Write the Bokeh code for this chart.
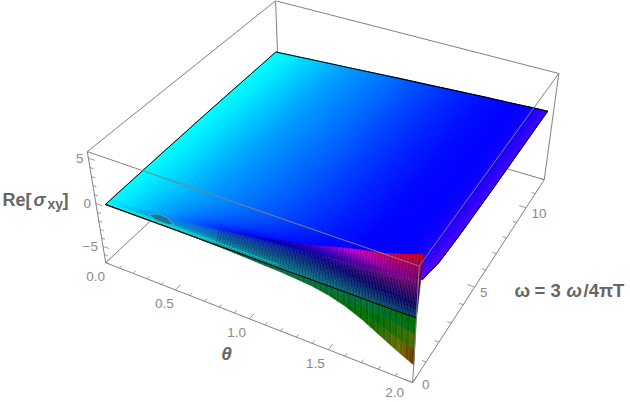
import colorsys
import numpy as np
from bokeh.plotting import figure
from bokeh.models import Range1d
from bokeh.core.properties import value
from bokeh.embed import file_html
from bokeh.resources import INLINE

# axis data
Z_LO, Z_HI, W_MAX = -7.0, 5.7, 12.0
theta_major = [0.0, 0.5, 1.0, 1.5, 2.0]
theta_labels = ["0.0", "0.5", "1.0", "1.5", "2.0"]
theta_label_dx = [-10, -11, -13, -13, -18]
theta_label_dy = [14, 14, 14, 14, 10]
w_major = [0, 5, 10]
w_label_dx = [13, 9, 13]
w_label_dy = [2, 5, 6]
z_major = [-5, 0, 5]
z_labels = ["\u22125", "0", "5"]

# surface data
T = [.07, .2, .4, .6, .8, 1.0, 1.2, 1.4, 1.6, 1.8, 1.9, 2.0]
W_plane = [11.2, 6, 3, 1.5, .7, .3]
Z_plane = [
    [.8, .93, 1.12, 1.32, 1.52, 1.72, 1.9, 2.09, 2.28, 2.44, 2.53, 2.61],
    [.65, .78, .99, 1.2, 1.41, 1.61, 1.82, 2.03, 2.24, 2.44, 2.55, 2.65],
    [.5, .65, .89, 1.13, 1.36, 1.6, 1.83, 2.07, 2.31, 2.54, 2.66, 2.78],
    [.4, .57, .84, 1.12, 1.38, 1.65, 1.92, 2.19, 2.46, 2.73, 2.86, 3.0],
    [.35, .56, .89, 1.22, 1.54, 1.87, 2.19, 2.52, 2.85, 3.17, 3.34, 3.5],
    [.32, .33, .62, .95, 1.38, 1.87, 2.2, 2.55, 2.9, 3.25, 3.45, 3.7],
]
H_plane = [
    [180, 184, 193, 202, 209, 216, 224, 231, 237, 240, 243, 255],
    [180, 185, 194, 203, 210, 217, 225, 232, 238, 240, 243, 256],
    [180, 185, 195, 204, 211, 218, 226, 233, 239, 240, 244, 258],
    [180, 186, 196, 205, 213, 220, 228, 235, 240, 240, 245, 260],
    [180, 187, 198, 209, 219, 227, 234, 239, 240, 240, 247, 262],
    [181, 188, 200, 215, 230, 238, 240, 240, 240, 240, 250, 265],
]
V_plane = [[1]*12]*6
W_wall = [.3, .15, .02]
Z_wall = [
    [.32, .33, .62, .95, 1.38, 1.92, 2.6, 3.4, 4.3, 5.1, 5.65, 6.3],
    [.32, .32, .46, .62, .84, 1.11, 1.45, 1.85, 2.3, 2.7, 2.95, 3.3],
    [.3, .3, .3, .3, .3, .3, .3, .3, .3, .3, .3, .3],
]
H_wall = [
    [185, 190, 205, 215, 228, 238, 250, 265, 300, 338, 350, 358],
    [180, 190, 198, 200, 202, 205, 212, 225, 245, 270, 285, 295],
    [178, 178, 178, 178, 178, 180, 182, 185, 190, 196, 200, 205],
]
V_wall = [
    [1, 1, 1, .95, .95, .9, .85, .9, .95, .95, .95, .92],
    [1, .95, .85, .75, .65, .58, .55, .5, .48, .45, .45, .42],
    [1, 1, .92, .85, .72, .66, .6, .55, .5, .45, .45, .42],
]
T_sheet = [.07, .6, .8, 1.0, 1.1, 1.2, 1.3, 1.4, 1.5, 1.6, 1.7, 1.8, 1.9, 2.0]
W_sheet = [.02, 0]
Z_sheet_min = [.3, .3, .2, .05, -.05, -.12, -.25, -.42, -.75, -1.3, -2.1, -3.1, -4.1, -5.0]
Z_sheet_edge = [.3]*14
H_sheet = [
    [150, 150, 150, 150, 148, 145, 140, 135, 128, 120, 108, 90, 50, 5],
    [170, 170, 170, 170, 170, 168, 166, 163, 160, 157, 154, 152, 150, 150],
]
V_sheet = [[.45]*14, [.45]*14]
blob_theta = [.35, .39, .46, .52, .49, .42]
blob_w = [.2, .38, .35, .13, .04, .04]

# camera fitted to the box corners as seen in the picture
corners = [(0,0,Z_LO,105,262),(0,0,Z_HI,87,151),(2,0,Z_LO,412,382),(2,0,Z_HI,419,266),
           (2,W_MAX,Z_LO,544,179),(2,W_MAX,Z_HI,558,73),(0,W_MAX,Z_HI,275,0),(0,W_MAX,Z_LO,279,101)]
A, b = [], []
for t,w,z,x,y in corners:
    A.append([t,w,z,1,0,0,0,0,-x*t,-x*w,-x*z]); b.append(x)
    A.append([0,0,0,0,t,w,z,1,-y*t,-y*w,-y*z]); b.append(y)
P = np.append(np.linalg.lstsq(np.array(A,float),np.array(b,float),rcond=None)[0],1).reshape(3,4)
def pr(t,w,z):
    t,w,z=np.broadcast_arrays(np.asarray(t,float),np.asarray(w,float),np.asarray(z,float))
    v=P@np.stack([t,w,z,np.ones_like(t)])
    return v[0]/v[2], v[1]/v[2]

p = figure(width=630, height=402, x_range=Range1d(0,630), y_range=Range1d(402,0),
           output_backend="svg", toolbar_location=None, min_border=0, outline_line_color=None,
           background_fill_color="white", border_fill_color="white")
p.styles = {"position":"absolute","left":"0px","top":"0px"}
p.axis.visible = False
p.grid.visible = False

def hexc(h,s,v):
    r,g,bb=colorsys.hsv_to_rgb((h%360)/360,s,v)
    return "#%02x%02x%02x"%(int(r*255),int(g*255),int(bb*255))

def mesh(TT, Ws, Zs, Hs, Vs, per_cell, sub_w, stripe=1.0, lw=1.0, stripe_from=.5):
    """Shade the read grid as small polygons; rows run far to near."""
    xs,ys,cs=[],[],[]
    Ws=np.array(Ws,float);Zs=np.array(Zs,float);Hs=np.array(Hs,float);Vs=np.array(Vs,float)
    for i in range(len(Ws)-1):
        for j in range(sub_w):
            f0,f1=j/sub_w,(j+1)/sub_w
            col=0
            for k in range(len(TT)-1):
                n=max(1,int(round((TT[k+1]-TT[k])/.2*per_cell)))
                for m in range(n):
                    g0,g1=m/n,(m+1)/n
                    ts=[TT[k]+(TT[k+1]-TT[k])*g for g in (g0,g1,g1,g0)]
                    fs=[f0,f0,f1,f1]; gs=[g0,g1,g1,g0]
                    wv=[Ws[i]+(Ws[i+1]-Ws[i])*f for f in fs]
                    def bl(M,f,g):
                        return (M[i,k]*(1-g)+M[i,k+1]*g)*(1-f)+(M[i+1,k]*(1-g)+M[i+1,k+1]*g)*f
                    zv=[bl(Zs,f,g) for f,g in zip(fs,gs)]
                    x,y=pr(ts,wv,zv)
                    xs.append(x.tolist());ys.append(y.tolist())
                    fm,gm=(f0+f1)/2,(g0+g1)/2
                    h=bl(Hs,fm,gm);v=bl(Vs,fm,gm)
                    if col%2 and TT[k]>=stripe_from: v*=stripe
                    col+=1
                    cs.append(hexc(h,1,min(v,1)))
    p.patches(xs,ys,fill_color=cs,line_color=cs,line_width=lw)

GR="#808080"
def edge(a,b,col=GR,lw=1):
    x,y=pr([a[0],b[0]],[a[1],b[1]],[a[2],b[2]])
    p.line(x,y,line_color=col,line_width=lw)

# rear box edges
for a,b_ in [((0,0,Z_LO),(0,W_MAX,Z_LO)),((0,W_MAX,Z_LO),(2,W_MAX,Z_LO)),((0,W_MAX,Z_LO),(0,W_MAX,Z_HI)),
             ((0,W_MAX,Z_HI),(0,0,Z_HI)),((0,W_MAX,Z_HI),(2,W_MAX,Z_HI)),((2,W_MAX,Z_LO),(2,W_MAX,Z_HI)),
             ((0,0,Z_LO),(0,0,Z_HI)),((0,0,Z_LO),(2,0,Z_LO)),((2,0,Z_LO),(2,W_MAX,Z_LO))]:
    edge(a,b_)
# ticks
for i in range(21):
    t=i/10
    x,y=pr([t,t],[0,.3 if i%5==0 else .15],[Z_LO,Z_LO]); p.line(x,y,line_color=GR,line_width=.8)
for i in range(13):
    x,y=pr([2,2-(.045 if i%5==0 else .025)],[i,i],[Z_LO,Z_LO]); p.line(x,y,line_color=GR,line_width=.8)
for i in range(-7,6):
    x,y=pr([0,.045 if i%5==0 else .025],[0,0],[i,i]); p.line(x,y,line_color=GR,line_width=.8)

# surface
mesh(T,W_plane,Z_plane,H_plane,V_plane,6,6)
mesh(T,W_wall,Z_wall,H_wall,V_wall,24,8,stripe=.75,lw=.35,stripe_from=.8)
x,y=pr(blob_theta,blob_w,[.45]*6)
p.patch(x,y,fill_color="#1d7391",line_color="#7fe0f0",line_width=1,line_alpha=.4,fill_alpha=.9)
mesh(T_sheet,W_sheet,[Z_sheet_min,Z_sheet_edge],H_sheet,V_sheet,12,3,stripe=.88,lw=.5)

K="#000000"
x,y=pr(T[:7],[.03]*7,[.55]*7)
p.line(x,y,line_color="#19e6e6",line_width=1,line_alpha=.6)
x,y=pr(T_sheet,[0]*14,Z_sheet_edge); p.line(x,y,line_color=K,line_width=1.05)
x,y=pr([T[0]]*7,W_plane+[0],[r[0] for r in Z_plane]+[Z_sheet_edge[0]]); p.line(x,y,line_color=K,line_width=1)
x,y=pr(T,[W_plane[0]]*12,Z_plane[0]); p.line(x,y,line_color=K,line_width=1.1)
x,y=pr([2]*6,W_plane,[r[-1] for r in Z_plane]); p.line(x,y,line_color=K,line_width=1)

# front box edges over the surface
for a,b_ in [((0,0,Z_HI),(2,0,Z_HI)),((2,0,Z_HI),(2,W_MAX,Z_HI)),((2,0,Z_HI),(2,0,Z_LO))]:
    edge(a,b_)

# labels
F=value("Liberation Sans")
def txt(x0,y0,s,size,col="#8a8a8a",style="normal",align="center",base="middle"):
    p.text([x0],[y0],text=[s],text_font=F,text_font_size=f"{size}px",text_color=col,
           text_font_style=style,text_align=align,text_baseline=base)
for t,s,dx,dy in zip(theta_major,theta_labels,theta_label_dx,theta_label_dy):
    x,y=pr(t,0,Z_LO); txt(float(x)+dx,float(y)+dy,s,13.5)
for w,dx,dy in zip(w_major,w_label_dx,w_label_dy):
    x,y=pr(2,w,Z_LO); txt(float(x)+dx,float(y)+dy,str(w),13.5)
for z,s in zip(z_major,z_labels):
    x,y=pr(0,0,z); txt(float(x)-5,float(y),s,13.5,align="right")
L="#666666"
txt(2,199,"Re[",18,L,"bold","left","alphabetic")
txt(33,199,"\u03c3",18,L,"bold italic","left","alphabetic")
txt(47,203,"xy",14,L,"bold","left","alphabetic")
txt(62,199,"]",18,L,"bold","left","alphabetic")
txt(226,353,"\u03b8",19,L,"bold italic")
txt(514,290,"\u03c9",18.5,L,"bold","left","alphabetic")
txt(534,290,"= 3",18.5,L,"bold","left","alphabetic")
txt(566,290,"\u03c9",18.5,L,"bold italic","left","alphabetic")
txt(583,290,"/4\u03c0T",18.5,L,"bold","left","alphabetic")

open("out.html","w").write(file_html(p,INLINE))
